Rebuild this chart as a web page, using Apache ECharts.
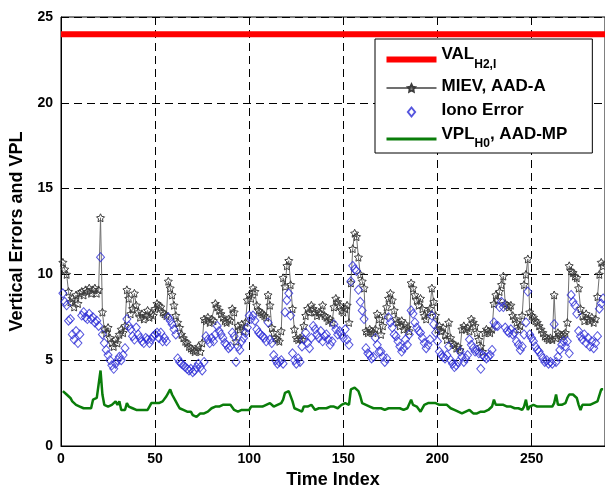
<!DOCTYPE html>
<html lang="en">
<head>
    <meta charset="UTF-8">
    <title>Vertical Errors and VPL</title>
    <script src="https://cdn.jsdelivr.net/npm/echarts@6/dist/echarts.min.js"></script>
    <style>
        html, body { margin: 0; padding: 0; background: #fff; }
        #chart { width: 605px; height: 494px; }
    </style>
</head>
<body>
<div id="chart"></div>
<script>
    // time index of first sample, samples are 1..288
    var firstIndex = 1;
    var xTicks = [0, 50, 100, 150, 200, 250];
    var yTicks = [0, 5, 10, 15, 20, 25];

    var valLevel = 24; // VAL H2,I (constant)

    // MIEV, AAD-A
    var miev = [
        10.7, 10.3, 10.0, 9.0, 8.4, 8.6, 8.1, 8.8, 8.3, 8.9,
        9.0, 8.8, 9.1, 9.0, 9.2, 8.9, 9.1, 9.2, 8.9, 9.1,
        13.3, 7.8, 6.8, 6.6, 6.9, 6.3, 6.0, 5.8, 6.2, 6.0,
        6.5, 6.8, 6.6, 7.0, 9.1, 8.6, 7.7, 8.0, 8.9, 8.2,
        7.8, 7.5, 7.7, 7.4, 7.6, 7.9, 7.5, 7.7, 7.6, 8.0,
        8.3, 8.2, 8.1, 7.8, 7.7, 7.6, 9.6, 9.2, 8.8, 8.2,
        7.6, 7.2, 6.9, 6.5, 6.3, 6.1, 6.0, 5.8, 5.7, 5.6,
        5.5, 5.6, 5.8, 5.5, 6.0, 7.4, 7.3, 7.5, 7.2, 7.4,
        7.3, 8.3, 8.1, 7.9, 7.7, 7.5, 7.3, 7.2, 7.4, 7.3,
        8.0, 7.8, 6.1, 7.0, 6.8, 7.1, 6.7, 7.2, 8.5, 8.8,
        8.6, 9.2, 9.0, 8.2, 7.9, 7.8, 7.7, 7.6, 7.5, 8.8,
        8.2, 6.9, 6.6, 6.3, 6.2, 6.1, 6.7, 9.8, 9.3, 10.5,
        10.8, 9.4, 8.0, 6.8, 6.3, 6.2, 6.3, 6.2, 7.0, 7.6,
        8.0, 7.8, 8.2, 8.0, 7.8, 7.6, 7.8, 7.7, 8.2, 7.6,
        7.5, 7.3, 7.4, 7.2, 8.1, 8.6, 8.4, 8.2, 7.9, 7.8,
        8.0, 8.2, 7.2, 9.5, 11.5, 12.4, 12.2, 11.0, 10.0, 9.6,
        9.2, 6.7, 6.6, 6.8, 6.7, 6.6, 6.8, 7.7, 7.4, 6.5,
        7.0, 7.6, 8.1, 8.6, 8.9, 8.5, 7.9, 7.4, 7.2, 7.0,
        7.3, 6.8, 7.1, 6.9, 6.7, 9.5, 9.2, 8.8, 8.5, 8.2,
        8.6, 8.0, 7.6, 7.4, 7.8, 8.0, 9.2, 8.4, 7.6, 6.8,
        7.0, 6.7, 6.9, 6.5, 6.2, 7.2, 6.3, 6.0, 5.9, 5.7,
        5.8, 5.6, 6.8, 7.0, 6.8, 6.9, 6.7, 7.4, 7.2, 7.0,
        6.6, 6.2, 5.8, 5.5, 6.6, 6.8, 6.7, 6.6, 6.8, 8.3,
        8.8, 8.5, 9.0, 9.4, 9.9, 8.3, 8.2, 8.1, 8.2, 7.6,
        7.4, 7.2, 6.8, 7.0, 7.6, 9.4, 10.0, 10.9, 7.8, 7.6,
        7.5, 7.3, 7.2, 7.0, 6.8, 6.6, 6.4, 6.3, 6.2, 6.3,
        6.2, 8.8, 6.3, 6.6, 6.5, 6.4, 6.5, 6.6, 7.2, 10.5,
        10.2, 10.1, 9.9, 9.8, 9.2, 8.0, 7.6, 7.3, 7.7, 7.4,
        7.3, 7.5, 7.2, 7.4, 8.7, 10.0, 10.7, 10.5
    ];

    // Iono Error
    var iono = [
        8.9, 8.4, 8.2, 7.3, 7.4, 6.5, 6.2, 6.7, 6.0, 6.5,
        7.6, 7.8, 7.5, 7.4, 7.7, 7.4, 7.5, 7.2, 7.3, 7.0,
        11.0, 6.5, 6.0, 5.6, 5.3, 5.0, 4.7, 4.5, 4.8, 5.0,
        5.2, 5.0, 5.3, 5.7, 7.4, 7.0, 6.8, 6.4, 6.2, 6.9,
        6.5, 6.3, 6.1, 6.0, 6.3, 6.2, 6.0, 6.2, 6.4, 6.5,
        6.6, 6.3, 6.6, 6.1, 6.3, 6.1, 7.5, 7.3, 7.1, 6.8,
        6.5, 5.1, 4.9, 4.8, 4.7, 4.6, 4.5, 4.4, 4.5, 4.3,
        4.4, 4.6, 4.8, 4.6, 4.4, 4.9, 6.4, 6.2, 6.0, 6.3,
        6.1, 6.5, 7.0, 6.7, 6.5, 6.3, 6.0, 5.9, 5.7, 5.8,
        6.6, 6.4, 4.9, 5.8, 5.6, 6.1, 6.3, 6.6, 6.9, 7.6,
        7.4, 7.6, 7.3, 6.8, 6.6, 6.5, 6.4, 6.3, 6.1, 7.2,
        6.2, 6.0, 5.3, 5.0, 4.8, 4.9, 5.0, 4.8, 7.8, 8.5,
        8.9, 7.6, 5.4, 5.0, 4.8, 5.1, 4.9, 5.8, 6.2, 6.6,
        6.0, 5.7, 6.3, 7.0, 6.8, 6.5, 6.3, 6.7, 6.1, 6.4,
        6.5, 6.2, 5.9, 6.1, 7.1, 6.8, 6.5, 6.7, 6.5, 6.3,
        6.8, 6.2, 5.9, 9.6, 10.5, 10.3, 10.2, 9.1, 8.4, 7.9,
        7.4, 5.7, 5.4, 5.3, 5.1, 5.2, 6.3, 5.9, 5.5, 5.5,
        5.2, 4.9, 5.1, 7.5, 7.2, 6.9, 6.5, 6.4, 6.1, 5.8,
        5.5, 5.7, 6.2, 5.9, 6.5, 7.9, 7.7, 7.2, 6.9, 6.7,
        6.6, 6.3, 6.0, 5.7, 5.9, 6.2, 7.6, 7.1, 6.6, 6.1,
        5.5, 5.3, 5.2, 5.1, 5.3, 5.8, 5.0, 4.8, 4.6, 4.7,
        4.9, 5.5, 5.2, 4.9, 5.1, 5.3, 6.2, 5.9, 5.7, 5.5,
        5.6, 5.4, 4.5, 5.3, 5.2, 5.1, 5.2, 5.3, 5.6, 7.2,
        7.0, 7.0, 8.1, 8.4, 8.1, 6.9, 6.7, 6.6, 6.8, 6.5,
        6.6, 6.1, 5.9, 5.6, 5.8, 6.5, 7.2, 9.0, 6.5, 6.3,
        6.1, 5.8, 5.6, 5.5, 5.3, 5.1, 4.9, 5.0, 4.8, 4.9,
        4.8, 7.1, 4.9, 5.2, 5.6, 5.9, 6.1, 5.8, 6.1, 5.4,
        8.8, 8.4, 8.2, 7.7, 6.7, 6.4, 6.2, 6.5, 6.0, 6.3,
        5.8, 6.1, 5.7, 6.0, 6.4, 8.0, 8.3, 8.6
    ];

    // VPL H0, AAD-MP
    var vpl = [
        3.2, 3.1, 3.0, 2.9, 2.8, 2.6, 2.5, 2.4, 2.3, 2.3,
        2.2, 2.2, 2.2, 2.2, 2.2, 2.2, 2.7, 2.8, 2.8, 2.9,
        4.4, 3.0, 2.4, 2.4, 2.3, 2.4, 2.4, 2.5, 2.6, 2.4,
        2.6, 2.1, 2.1, 2.1, 2.5, 2.3, 2.3, 2.2, 2.2, 2.1,
        2.1, 2.1, 2.1, 2.1, 2.1, 2.1, 2.3, 2.5, 2.4, 2.5,
        2.5, 2.5, 2.5, 2.6, 2.6, 2.9, 3.1, 3.3, 3.0, 2.9,
        2.6, 2.4, 2.2, 2.1, 2.1, 2.0, 2.0, 1.9, 2.0, 1.8,
        1.9, 1.7, 1.8, 1.9, 1.9, 1.9, 2.0, 2.0, 2.1, 2.2,
        2.2, 2.3, 2.3, 2.3, 2.3, 2.4, 2.4, 2.4, 2.4, 2.4,
        2.3, 2.1, 2.0, 2.0, 2.0, 2.1, 2.1, 2.1, 2.2, 2.1,
        2.3, 2.3, 2.3, 2.3, 2.3, 2.3, 2.3, 2.4, 2.4, 2.4,
        2.5, 2.5, 2.3, 2.3, 2.4, 2.4, 2.5, 2.7, 3.1, 3.2,
        3.2, 3.1, 2.6, 2.2, 2.1, 2.1, 2.0, 2.0, 2.3, 2.3,
        2.3, 2.3, 2.4, 2.3, 2.1, 2.2, 2.2, 2.2, 2.2, 2.2,
        2.2, 2.3, 2.3, 2.2, 2.3, 2.3, 2.2, 2.3, 2.4, 2.4,
        2.5, 2.4, 2.4, 3.3, 3.4, 3.4, 3.3, 3.2, 2.9, 2.5,
        2.5, 2.4, 2.3, 2.3, 2.2, 2.2, 2.2, 2.2, 2.2, 2.2,
        2.1, 2.1, 2.2, 2.2, 2.2, 2.2, 2.1, 2.2, 2.2, 2.2,
        2.2, 2.1, 2.2, 2.2, 2.3, 2.7, 2.4, 2.4, 2.3, 2.2,
        2.0, 2.0, 2.4, 2.5, 2.5, 2.5, 2.5, 2.5, 2.5, 2.4,
        2.4, 2.4, 2.4, 2.4, 2.4, 2.3, 2.2, 2.2, 2.1, 2.1,
        2.0, 1.9, 1.9, 1.9, 2.0, 2.1, 2.1, 2.1, 1.9, 1.9,
        1.9, 2.0, 2.0, 2.0, 2.0, 2.0, 2.1, 2.2, 2.3, 2.7,
        2.4, 2.4, 2.4, 2.4, 2.4, 2.3, 2.3, 2.3, 2.3, 2.2,
        2.2, 2.2, 2.2, 2.1, 2.1, 2.3, 2.7, 2.1, 2.3, 2.4,
        2.4, 2.4, 2.3, 2.3, 2.3, 2.3, 2.3, 2.3, 2.3, 2.3,
        2.3, 2.5, 3.0, 2.4, 2.4, 2.4, 2.4, 2.5, 2.8, 3.0,
        3.0, 3.0, 2.9, 2.8, 2.4, 2.1, 2.4, 2.4, 2.4, 2.4,
        2.4, 2.4, 2.5, 2.5, 2.6, 2.6, 3.3, 3.3
    ];

    var xMax = 289;
    var font = '"Liberation Sans", Arial, Helvetica, sans-serif';
    var star = 'path://M0,-10L2.9,-4L9.5,-3.1L4.8,1.5L5.9,8.1L0,5L-5.9,8.1L-4.8,1.5L-9.5,-3.1L-2.9,-4Z';
    var diamond = 'path://M0,-5L4,0L0,5L-4,0Z';
    var thickBar = 'path://M0,0H50V6H0Z';
    var hidden = { color: 'rgba(0,0,0,0)', borderColor: 'rgba(0,0,0,0)', borderWidth: 0 };

    function withIndex(arr) {
        return arr.map(function (v, i) { return [i + firstIndex, v]; });
    }

    var chart = echarts.init(document.getElementById('chart'), null, { renderer: 'canvas' });

    var option = {
        animation: false,
        backgroundColor: '#fff',
        grid: {
            left: 61, right: 0, top: 17, bottom: 48,
            show: true, borderColor: '#000', borderWidth: 1
        },
        legend: {
            orient: 'vertical',
            left: 375,
            top: 39,
            width: 196,
            padding: [7, 25, 3, 10],
            backgroundColor: '#fff',
            borderColor: '#000',
            borderWidth: 1,
            itemWidth: 50,
            itemHeight: 9,
            itemGap: 7,
            symbolKeepAspect: true,
            data: [
                { name: 'VAL', icon: thickBar, itemStyle: { color: '#ff0000', borderWidth: 0 } },
                { name: 'MIEV' },
                { name: 'Iono', icon: diamond },
                { name: 'VPL', itemStyle: hidden, lineStyle: { width: 3 } }
            ],
            formatter: function (name) {
                if (name === 'VAL') return '{m|VAL}{s|H2,I}';
                if (name === 'MIEV') return '{m|MIEV, AAD-A}';
                if (name === 'Iono') return '{m|Iono Error}';
                return '{m|VPL}{s|H0}{m|, AAD-MP}';
            },
            textStyle: {
                color: '#000',
                rich: {
                    m: { fontFamily: font, fontWeight: 'bold', fontSize: 17, color: '#000', height: 22, verticalAlign: 'top', padding: [0, 0, 4, 0] },
                    s: { fontFamily: font, fontWeight: 'bold', fontSize: 12, color: '#000', height: 22, verticalAlign: 'bottom', padding: [10, 0, 0, 0] }
                }
            }
        },
        xAxis: {
            type: 'value',
            min: 0,
            max: xMax,
            interval: 50,
            name: 'Time Index',
            nameLocation: 'middle',
            nameGap: 25,
            nameTextStyle: { fontFamily: font, fontWeight: 'bold', fontSize: 18, color: '#000' },
            axisLine: { lineStyle: { color: '#000', width: 1 } },
            axisTick: { inside: true, length: 5, lineStyle: { color: '#000' } },
            axisLabel: {
                fontFamily: font, fontWeight: 'bold', fontSize: 14, color: '#000', margin: 6,
                showMaxLabel: false,
                formatter: function (v) { return xTicks.indexOf(v) >= 0 ? String(v) : ''; }
            },
            splitLine: { show: true, lineStyle: { color: '#000', type: [8, 5], width: 1 } }
        },
        yAxis: {
            type: 'value',
            min: 0,
            max: 25,
            interval: 5,
            name: 'Vertical Errors and VPL',
            nameLocation: 'middle',
            nameGap: 33,
            nameTextStyle: { fontFamily: font, fontWeight: 'bold', fontSize: 18, color: '#000' },
            axisLine: { show: true, lineStyle: { color: '#000', width: 1 } },
            axisTick: { show: true, inside: true, length: 5, lineStyle: { color: '#000' } },
            axisLabel: {
                fontFamily: font, fontWeight: 'bold', fontSize: 14, color: '#000', margin: 8,
                formatter: function (v) { return yTicks.indexOf(v) >= 0 ? String(v) : ''; }
            },
            splitLine: { show: true, lineStyle: { color: '#000', type: [8, 5], width: 1 } }
        },
        series: [
            {
                name: 'VAL',
                type: 'line',
                symbol: 'none',
                data: [[0, valLevel], [xMax, valLevel]],
                lineStyle: { color: '#ff0000', width: 6 },
                itemStyle: { color: '#ff0000' },
                z: 2
            },
            {
                name: 'MIEV',
                type: 'line',
                data: withIndex(miev),
                symbol: star,
                symbolSize: 8,
                showAllSymbol: true,
                lineStyle: { color: '#707070', width: 1 },
                itemStyle: { color: 'rgba(0,0,0,0)', borderColor: '#3c3c3c', borderWidth: 1 },
                z: 3
            },
            {
                name: 'Iono',
                type: 'scatter',
                data: withIndex(iono),
                symbol: 'diamond',
                symbolSize: [8, 9],
                itemStyle: { color: 'rgba(0,0,0,0)', borderColor: '#2a2ad6', borderWidth: 1 },
                z: 4
            },
            {
                name: 'VPL',
                type: 'line',
                data: withIndex(vpl),
                symbol: 'none',
                lineStyle: { color: '#0a7d0a', width: 2.5 },
                itemStyle: { color: '#0a7d0a' },
                z: 5
            }
        ]
    };

    chart.setOption(option);
</script>
</body>
</html>
